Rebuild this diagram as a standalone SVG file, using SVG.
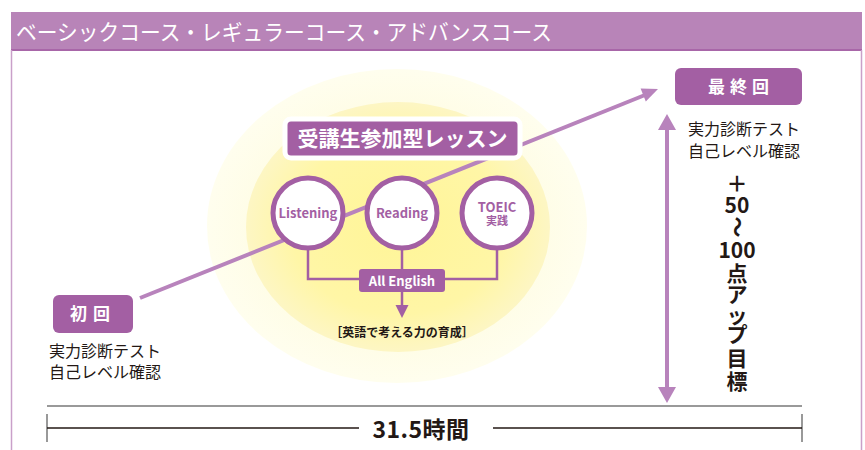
<svg xmlns="http://www.w3.org/2000/svg" width="865" height="450" viewBox="0 0 865 450">
<style>
.jp{font-family:"Noto Sans CJK JP","Noto Sans",sans-serif}
.box{fill:#a35fa3}
.wt{fill:#ffffff}
.dk{fill:#231815}
.circ{fill:#ffffff;stroke:#a35fa3;stroke-width:5}
.ct{fill:#a35fa3;font-weight:600;text-anchor:middle}
.con{fill:none;stroke:#a35fa3;stroke-width:2.5}
.arr{fill:none;stroke:#b883bc;stroke-width:4}
.ah{fill:#b883bc}
</style>
<defs>
<radialGradient id="gOut" cx="0.5" cy="0.5" r="0.5">
<stop offset="0" stop-color="#fdf9cf"/>
<stop offset="1" stop-color="#fffeee"/>
</radialGradient>
<radialGradient id="gMid" cx="0.5" cy="0.5" r="0.5">
<stop offset="0" stop-color="#fff597"/>
<stop offset="0.7" stop-color="#fff6a6"/>
<stop offset="1" stop-color="#fdf6c4"/>
</radialGradient>
</defs>
<rect width="865" height="450" fill="#ffffff"/>
<g id="frame">
<rect x="11" y="12" width="851" height="38" fill="#b884b8"/>
<line x1="11" y1="50" x2="862" y2="50" stroke="#a866a8" stroke-width="2"/>
<line x1="11.5" y1="50" x2="11.5" y2="450" stroke="#c9a0c9" stroke-width="1.5"/>
<line x1="861.5" y1="50" x2="861.5" y2="450" stroke="#c9a0c9" stroke-width="1.5"/>
<text class="jp wt" x="16" y="40" font-size="22" textLength="536" lengthAdjust="spacingAndGlyphs">ベーシックコース・レギュラーコース・アドバンスコース</text>
</g>
<g id="background">
<ellipse cx="397" cy="226" rx="190" ry="157" fill="url(#gOut)"/>
<ellipse cx="398" cy="227" rx="152" ry="125" fill="url(#gMid)"/>
</g>
<g id="connectors">
<line class="arr" x1="140" y1="298" x2="645" y2="95"/>
<polygon class="ah" points="658,89 645.8,101.5 640.6,88.5"/>
<line class="arr" x1="667" y1="126" x2="667" y2="391"/>
<polygon class="ah" points="667,114 676,130 658,130"/>
<polygon class="ah" points="667,403 676,387 658,387"/>
<path class="con" d="M308 250 V279 H497 V250"/>
<path class="con" d="M402 250 V306"/>
<polygon fill="#a35fa3" points="395.5,305 408.5,305 402,318"/>
</g>
<g id="lesson">
<rect x="285" y="119" width="235" height="39" rx="6" class="box" stroke="#ffffff" stroke-width="5"/>
<text class="jp wt" x="402.5" y="146" font-size="21" font-weight="700" text-anchor="middle">受講生参加型レッスン</text>
</g>
<g id="listening">
<circle class="circ" cx="308" cy="213" r="35"/>
<text class="jp ct" x="308" y="218" font-size="13">Listening</text>
</g>
<g id="reading">
<circle class="circ" cx="402" cy="213" r="35"/>
<text class="jp ct" x="402" y="218" font-size="13">Reading</text>
</g>
<g id="toeic">
<circle class="circ" cx="497" cy="213" r="35"/>
<text class="jp ct" x="497" y="212" font-size="13">TOEIC<tspan x="497" y="225" font-size="11">実践</tspan></text>
</g>
<g id="allenglish">
<rect x="359" y="269" width="86" height="23" rx="3" class="box"/>
<text class="jp wt" x="402" y="285.5" font-size="13" font-weight="600" text-anchor="middle">All English</text>
</g>
<g id="result">
<text class="jp dk" x="402" y="337" font-size="12" font-weight="700" text-anchor="middle">［英語で考える力の育成］</text>
</g>
<g id="first">
<rect x="53" y="295" width="80" height="38" rx="6" class="box"/>
<text class="jp wt" x="93" y="320" font-size="17" font-weight="600" text-anchor="middle" letter-spacing="6">初回</text>
<text class="jp dk" x="49" y="357" font-size="16">実力診断テスト</text>
<text class="jp dk" x="49" y="378" font-size="16">自己レベル確認</text>
</g>
<g id="last">
<rect x="675" y="68" width="127" height="37" rx="6" class="box"/>
<text class="jp wt" x="741" y="93" font-size="17" font-weight="600" text-anchor="middle" letter-spacing="5">最終回</text>
<text class="jp dk" x="688" y="135" font-size="16">実力診断テスト</text>
<text class="jp dk" x="688" y="157" font-size="16">自己レベル確認</text>
</g>
<g id="goal" class="jp dk" font-size="21" font-weight="700" text-anchor="middle">
<text x="737" y="191">＋<tspan x="737" y="213">50</tspan></text>
<text x="737" y="234" transform="rotate(90 737 227)">～</text>
<text x="737" y="258">100<tspan x="737" y="281">点</tspan><tspan x="737" y="302">ア</tspan><tspan x="737" y="323">ッ</tspan><tspan x="737" y="342">プ</tspan><tspan x="737" y="366">目</tspan><tspan x="737" y="389">標</tspan></text>
</g>
<g id="duration">
<line x1="47" y1="406" x2="802" y2="406" stroke="#777777" stroke-width="1.5"/>
<line x1="47" y1="414" x2="47" y2="442" stroke="#999999" stroke-width="2"/>
<line x1="802" y1="414" x2="802" y2="442" stroke="#999999" stroke-width="2"/>
<line x1="47" y1="428" x2="359" y2="428" stroke="#231815" stroke-width="1.5"/>
<line x1="493" y1="428" x2="802" y2="428" stroke="#231815" stroke-width="1.5"/>
<text class="jp dk" x="421" y="438" font-size="23" font-weight="700" text-anchor="middle" letter-spacing="0.5">31.5時間</text>
</g>
</svg>
